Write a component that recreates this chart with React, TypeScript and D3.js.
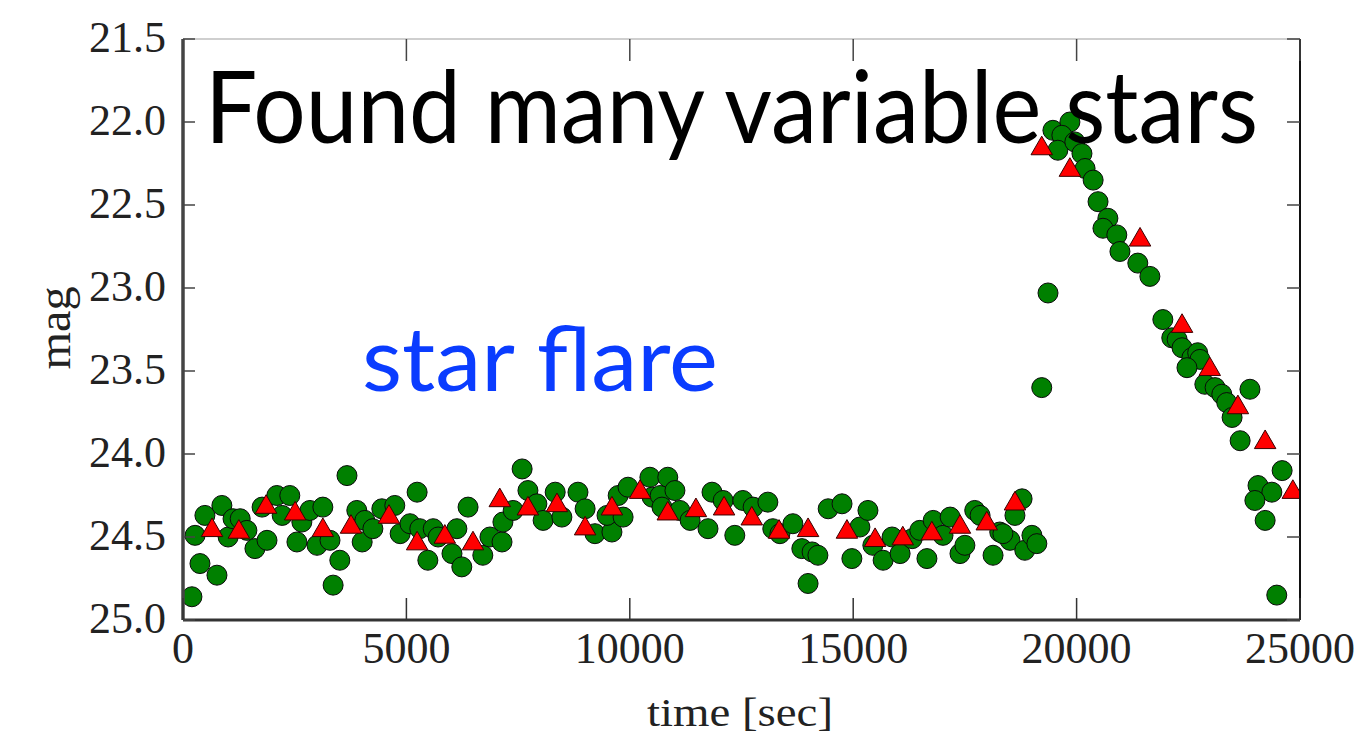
import React from "react";
import * as d3 from "d3";

// green circles: time [sec], mag
const circleTime = [
  200, 270, 380, 490, 760, 870, 1010, 1120, 1280, 1430, 1610, 1880, 1770, 2100, 2220, 2390, 2550, 2660, 2840, 3000,
  3130, 3290, 3510, 3360, 3670, 3890, 4070, 4010, 4250, 4450, 4740, 4860, 5080, 5240, 5300, 5480, 5600, 5710, 6020, 6130,
  6240, 6380, 6710, 6870, 7140, 7160, 7390, 7590, 7720, 7920, 8060, 8330, 8480, 8840, 9000, 9220, 9600, 9490, 9740, 9850,
  9960, 10450, 10500, 10680, 10850, 11010, 10720, 11120, 11350, 11750, 11840, 12090, 12350, 12530, 12760, 13090, 13200, 13360, 13650, 13850,
  14080, 14210, 13990, 14440, 14750, 14970, 15150, 15330, 15440, 15670, 15870, 16050, 16320, 16490, 16650, 16790, 17010, 17170, 17390, 17500,
  17720, 17840, 18130, 18280, 18510, 18780, 18620, 18350, 18840, 19000, 19110,
  19220, 19360, 19470, 19850, 19670, 19580, 19960, 20120, 20190, 20370, 20480, 20700, 20590, 20900, 20970, 21370, 21640, 21930, 22130, 22250,
  22360, 22580, 22710, 22760, 22470, 22870, 23100, 23250, 23360, 23880, 23480, 23660, 24600, 24060, 24370, 23990, 24220, 24480,
];
const circleMag = [
  24.86, 24.49, 24.66, 24.37, 24.73, 24.31, 24.5, 24.39, 24.39, 24.46, 24.57, 24.52, 24.32, 24.25, 24.37, 24.25, 24.53, 24.41, 24.34, 24.55,
  24.32, 24.52, 24.64, 24.79, 24.13, 24.34, 24.4, 24.53, 24.45, 24.33, 24.31, 24.48, 24.42, 24.23, 24.45, 24.64, 24.45, 24.5, 24.6, 24.45,
  24.68, 24.32, 24.61, 24.5, 24.53, 24.41, 24.34, 24.09, 24.22, 24.3, 24.4, 24.23, 24.38, 24.23, 24.33, 24.48, 24.47, 24.37, 24.25, 24.38,
  24.2, 24.14, 24.26, 24.25, 24.14, 24.22, 24.32, 24.34, 24.4, 24.45, 24.23, 24.28, 24.49, 24.28, 24.32, 24.29, 24.45, 24.48, 24.42, 24.57,
  24.59, 24.61, 24.78, 24.33, 24.3, 24.63, 24.44, 24.34, 24.55, 24.64, 24.5, 24.6, 24.51, 24.46, 24.63, 24.4, 24.49, 24.38, 24.6, 24.55,
  24.34, 24.37, 24.61, 24.47, 24.52, 24.27, 24.37, 24.48, 24.58, 24.49, 24.54,
  23.6, 23.03, 22.05, 22.0, 22.08, 22.17, 22.12, 22.19, 22.28, 22.35, 22.48, 22.58, 22.64, 22.68, 22.78, 22.85, 22.93, 23.19, 23.3, 23.31,
  23.36, 23.42, 23.39, 23.43, 23.48, 23.58, 23.6, 23.64, 23.69, 23.61, 23.78, 23.92, 24.1, 24.19, 24.23, 24.28, 24.4, 24.85,
];

// red triangles: time [sec], mag
const triTime = [
  650, 1250, 1860, 2510, 3130, 3760, 4610, 5240, 5860, 6490, 7090, 7720, 8370, 9000, 9600, 10230, 10850, 11480, 12110, 12730,
  13340, 13990, 14860, 15490, 16110, 16760, 17390, 17990, 18620, 19220, 19850, 21420, 22360, 22980, 23610, 24220, 24840,
];
const triMag = [
  24.46, 24.47, 24.32, 24.36, 24.46, 24.44, 24.38, 24.54, 24.5, 24.54, 24.28, 24.33, 24.31, 24.45, 24.33, 24.23, 24.36, 24.34, 24.33, 24.39,
  24.47, 24.46, 24.47, 24.52, 24.51, 24.48, 24.44, 24.42, 24.3, 22.16, 22.29, 22.71, 23.23, 23.49, 23.72, 23.93, 24.23,
];

const xTicks = [0, 5000, 10000, 15000, 20000, 25000];
const yTicks = [21.5, 22.0, 22.5, 23.0, 23.5, 24.0, 24.5, 25.0];

const W = 1358;
const H = 735;
const margin = { top: 39, right: 58, bottom: 115, left: 183 };

export default function App() {
  const x = d3.scaleLinear().domain([0, 25000]).range([margin.left, W - margin.right]);
  const y = d3.scaleLinear().domain([21.5, 25.0]).range([margin.top, H - margin.bottom]);
  const x0 = x(0), x1 = x(25000), y0 = y(21.5), y1 = y(25.0);
  const tri = d3.symbol(d3.symbolTriangle, 200)();
  const serif = "'Liberation Serif', 'DejaVu Serif', serif";

  return (
    <div style={{ position: "absolute", left: 0, top: 0 }}>
      <svg width={W} height={H} style={{ display: "block", background: "#fff" }}>
        <defs>
          <clipPath id="plot">
            <rect x={x0} y={y0} width={x1 - x0} height={y1 - y0} />
          </clipPath>
        </defs>

        <g clipPath="url(#plot)">
          {circleTime.map((t, i) => (
            <circle key={"c" + i} cx={x(t)} cy={y(circleMag[i])} r={10} fill="#008000" stroke="#0a0a0a" strokeWidth={1} />
          ))}
          {triTime.map((t, i) => (
            <path key={"t" + i} d={tri!} transform={`translate(${x(t)},${y(triMag[i])})`} fill="#ff0000" stroke="#3a0000" strokeWidth={1} />
          ))}
        </g>

        {/* spines */}
        <line x1={x0} x2={x1} y1={y0} y2={y0} stroke="#cfcfcf" strokeWidth={2} />
        <line x1={x0} x2={x0} y1={y0} y2={y1} stroke="#444" strokeWidth={3.5} />
        <line x1={x0} x2={x1} y1={y1} y2={y1} stroke="#333" strokeWidth={3} />
        <line x1={x1} x2={x1} y1={y0} y2={y1} stroke="#111" strokeWidth={2} />

        {/* inward ticks */}
        {xTicks.map((t) => (
          <g key={"xt" + t}>
            <line x1={x(t)} x2={x(t)} y1={y1} y2={y1 - 22} stroke="#333" strokeWidth={1.5} />
            <line x1={x(t)} x2={x(t)} y1={y0} y2={y0 + 22} stroke="#444" strokeWidth={1.5} />
            <text x={x(t)} y={y1 + 43} textAnchor="middle" fontFamily={serif} fontSize={44} fill="#222">
              {t}
            </text>
          </g>
        ))}
        {yTicks.map((t) => (
          <g key={"yt" + t}>
            <line x1={x0} x2={x0 + 12} y1={y(t)} y2={y(t)} stroke="#444" strokeWidth={1.5} />
            <line x1={x1} x2={x1 - 13} y1={y(t)} y2={y(t)} stroke="#444" strokeWidth={1.5} />
            <text x={x0 - 17} y={y(t) + 13} textAnchor="end" fontFamily={serif} fontSize={44} fill="#222">
              {t.toFixed(1)}
            </text>
          </g>
        ))}

        {/* axis labels */}
        <text x={740} y={726} textAnchor="middle" fontFamily={serif} fontSize={40} fill="#222" textLength={186} lengthAdjust="spacingAndGlyphs">
          time [sec]
        </text>
        <text transform="translate(70,328) rotate(-90)" textAnchor="middle" fontFamily={serif} fontSize={46} fill="#222" textLength={83} lengthAdjust="spacingAndGlyphs">
          mag
        </text>

        {/* annotations */}
        <text x={205} y={143} fontFamily="Lato, 'Open Sans', sans-serif" fontSize={100} fill="#000" textLength={1053} lengthAdjust="spacingAndGlyphs">
          Found many variable stars
        </text>
        <text x={362} y={391} fontFamily="Lato, 'Open Sans', sans-serif" fontSize={90} fill="#0a3cff" textLength={356} lengthAdjust="spacingAndGlyphs">
          star flare
        </text>
      </svg>
    </div>
  );
}
